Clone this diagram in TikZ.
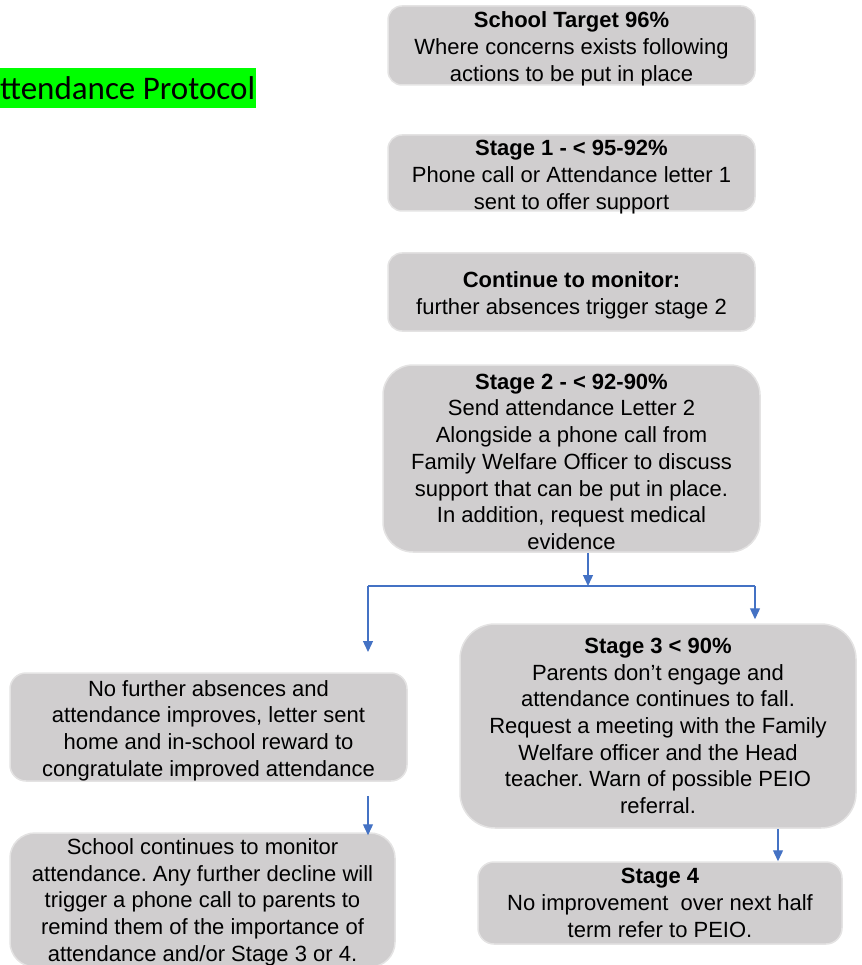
\documentclass[tikz,border=0pt]{standalone}
\usepackage{fontspec}
\setmainfont{Liberation Sans}
\newfontfamily\titlefont{Carlito}
\usetikzlibrary{arrows.meta}
\frenchspacing
\definecolor{boxgray}{HTML}{D0CECF}
\definecolor{boxedge}{HTML}{E4E3E3}
\definecolor{flowblue}{HTML}{4472C4}
\definecolor{marker}{HTML}{00FF00}
\newcommand\sinkby[1]{\rule{0pt}{#1}}
\tikzset{
	stagebox/.style = {draw = boxedge, line width = 1.5pt, fill = boxgray, align = center,
		inner sep = 0pt, font = \fontsize{22}{26.7}\selectfont},
	flowline/.style = {draw = flowblue, line width = 1.3pt},
	flow/.style = {flowline, -{Triangle[width = 10pt, length = 11pt]}}
}
\begin{document}
\begin{tikzpicture}[x = 1pt, y = -1pt]
	\useasboundingbox (0,0) rectangle (861,965);
	\node [fill = marker, anchor = west, inner xsep = 1pt, minimum height = 40pt, font = \titlefont\fontsize{33}{38}\selectfont] (title) at (-1,88) {ttendance Protocol};
	% stages down the right
	\node [stagebox, minimum width = 367pt, minimum height = 79pt, rounded corners = 14pt] (target) at (571.5,45.5) {\sinkby{18pt}\textbf{School Target 96\%}\\Where concerns exists following\\\smash{actions to be put in place}};
	\node [stagebox, minimum width = 367pt, minimum height = 76pt, rounded corners = 14pt] (stageone) at (571.5,173) {\sinkby{19pt}\textbf{Stage 1 - < 95-92\%}\\Phone call or Attendance letter 1\\\smash{sent to offer support}};
	\node [stagebox, minimum width = 367pt, minimum height = 78pt, rounded corners = 14pt] (monitor) at (571.5,292) {\sinkby{22pt}\textbf{Continue to monitor:}\\further absences trigger stage 2};
	\node [stagebox, minimum width = 377pt, minimum height = 187pt, rounded corners = 30pt] (stagetwo) at (571.5,458.5) {\sinkby{22pt}\textbf{Stage 2 - < 92-90\%}\\Send attendance Letter 2\\Alongside a phone call from\\Family Welfare Officer to discuss\\support that can be put in place.\\In addition, request medical\\evidence};
	\node [stagebox, minimum width = 396pt, minimum height = 204pt, rounded corners = 35pt] (stagethree) at (658,726) {\textbf{Stage 3 < 90\%}\\Parents don’t engage and\\attendance continues to fall.\\Request a meeting with the Family\\Welfare officer and the Head\\teacher. Warn of possible PEIO\\referral.};
	\node [stagebox, minimum width = 364pt, minimum height = 82pt, rounded corners = 16pt] (stagefour) at (660,903) {\textbf{Stage 4}\\No improvement\ \ over next half\\term refer to PEIO.};
	% left branch
	\node [stagebox, minimum width = 397pt, minimum height = 108pt, rounded corners = 16pt] (improved) at (208.5,727) {\sinkby{23pt}No further absences and\\attendance improves, letter sent\\home and in-school reward to\\congratulate improved attendance};
	\node [stagebox, minimum width = 385pt, minimum height = 134pt, rounded corners = 25pt] (keepwatch) at (202.5,900) {\sinkby{20pt}School continues to monitor\\attendance. Any further decline will\\trigger a phone call to parents to\\remind them of the importance of\\attendance and/or Stage 3 or 4.};
	% connectors
	\coordinate (split) at (588,586);
	\coordinate (splitl) at (368,586);
	\coordinate (splitr) at (755,586);
	\coordinate (leftdrop) at (368,652);
	\draw [flow] (stagetwo.south -| split) -- (split);
	\draw [flowline] (splitl) -- (splitr);
	\draw [flow] (splitl) -- (leftdrop);
	\draw [flow, shorten > = 4pt] (splitr) -- (stagethree.north -| splitr);
	\draw [flow, shorten < = 14pt, shorten > = -3pt] (improved.south -| splitl) -- (keepwatch.north -| splitl);
	\draw [flow] (stagethree.south -| 778,0) -- (stagefour.north -| 778,0);
\end{tikzpicture}
\end{document}
